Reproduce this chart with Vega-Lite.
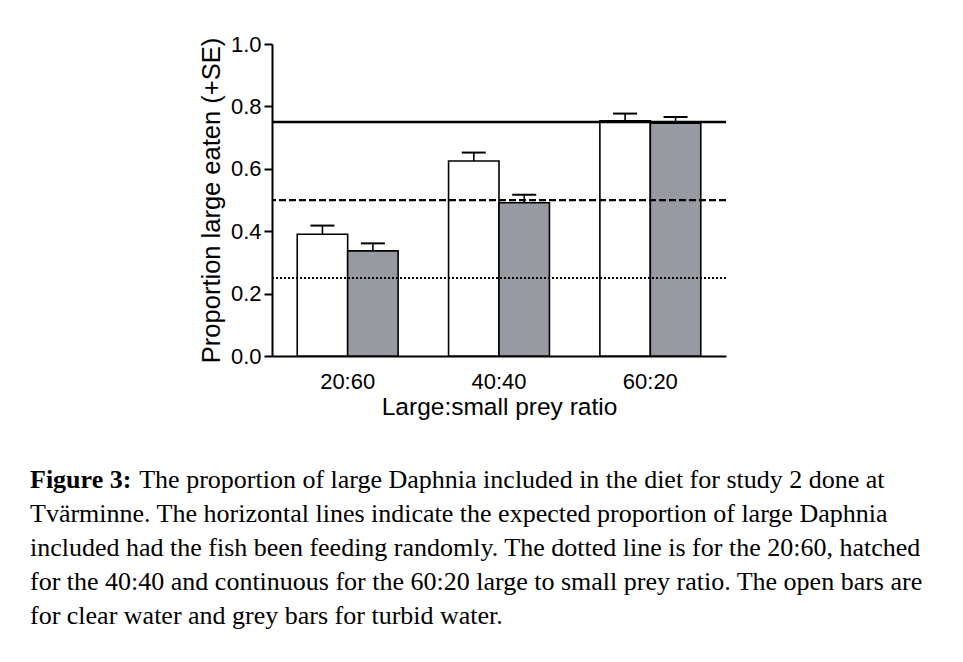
{
  "$schema": "https://vega.github.io/schema/vega-lite/v6.json",
  "width": 454,
  "height": 312,
  "autosize": {"type": "none"},
  "padding": {"left": 272, "top": 44, "right": 237, "bottom": 306},
  "background": "white",
  "datasets": {
    "bars": [
      {"ratio": "20:60", "water": "clear", "value": 0.390, "upper": 0.418},
      {"ratio": "20:60", "water": "turbid", "value": 0.337, "upper": 0.361},
      {"ratio": "40:40", "water": "clear", "value": 0.625, "upper": 0.652},
      {"ratio": "40:40", "water": "turbid", "value": 0.491, "upper": 0.517},
      {"ratio": "60:20", "water": "clear", "value": 0.754, "upper": 0.777},
      {"ratio": "60:20", "water": "turbid", "value": 0.746, "upper": 0.766}
    ],
    "expected": [
      {"ratio": "20:60", "expected": 0.25},
      {"ratio": "40:40", "expected": 0.5},
      {"ratio": "60:20", "expected": 0.75}
    ]
  },
  "title": {
    "text": "Figure 3:",
    "subtitle": [
      "\u200b\u00a0\u00a0\u00a0\u00a0\u00a0\u00a0\u00a0\u00a0\u00a0\u00a0\u00a0\u00a0\u00a0\u00a0\u00a0\u00a0\u2009The proportion of large Daphnia included in the diet for study 2 done at",
      "Tvärminne. The horizontal lines indicate the expected proportion of large Daphnia",
      "included had the fish been feeding randomly. The dotted line is for the 20:60, hatched",
      "for the 40:40 and continuous for the 60:20 large to small prey ratio. The open bars are",
      "for clear water and grey bars for turbid water."
    ],
    "orient": "bottom",
    "anchor": "start",
    "frame": "group",
    "dx": -242,
    "offset": 48,
    "font": "Liberation Serif",
    "fontSize": 26,
    "fontWeight": "bold",
    "color": "black",
    "lineHeight": 34,
    "subtitleFont": "Liberation Serif",
    "subtitleFontSize": 26,
    "subtitleFontWeight": "normal",
    "subtitleColor": "black",
    "subtitleLineHeight": 34,
    "subtitlePadding": -26
  },
  "config": {
    "view": {"stroke": null},
    "axis": {
      "labelFont": "Liberation Sans",
      "titleFont": "Liberation Sans",
      "labelColor": "black",
      "titleColor": "black",
      "domainColor": "black",
      "tickColor": "black",
      "domainWidth": 2,
      "tickWidth": 2,
      "grid": false,
      "titleFontWeight": "normal"
    }
  },
  "layer": [
    {
      "data": {"name": "bars"},
      "mark": {"type": "bar", "stroke": "black", "strokeWidth": 1.6},
      "encoding": {
        "x": {
          "field": "ratio", "type": "nominal",
          "scale": {"paddingInner": 0.3333, "paddingOuter": 0.1667},
          "axis": {
            "title": "Large:small prey ratio",
            "labelAngle": 0,
            "ticks": false,
            "labelFontSize": 22,
            "labelPadding": 15,
            "titleFontSize": 24.5,
            "titlePadding": 3
          }
        },
        "xOffset": {"field": "water", "type": "nominal", "scale": {"domain": ["clear", "turbid"], "paddingInner": 0}},
        "y": {
          "field": "value", "type": "quantitative",
          "scale": {"domain": [0, 1]},
          "axis": {
            "title": "Proportion large eaten (+SE)",
            "values": [0, 0.2, 0.4, 0.6, 0.8, 1.0],
            "format": ".1f",
            "tickSize": 8,
            "labelFontSize": 22,
            "labelPadding": 3,
            "titleFontSize": 25.5,
            "titlePadding": 6
          }
        },
        "fill": {
          "field": "water", "type": "nominal",
          "scale": {"domain": ["clear", "turbid"], "range": ["#ffffff", "#979ba1"]},
          "legend": null
        }
      }
    },
    {
      "data": {"name": "bars"},
      "mark": {"type": "rule", "stroke": "black", "strokeWidth": 1.6},
      "encoding": {
        "x": {"field": "ratio", "type": "nominal"},
        "xOffset": {"field": "water", "type": "nominal"},
        "y": {"field": "value", "type": "quantitative"},
        "y2": {"field": "upper"}
      }
    },
    {
      "data": {"name": "bars"},
      "mark": {"type": "tick", "color": "black", "thickness": 2, "size": 24, "opacity": 1},
      "encoding": {
        "x": {"field": "ratio", "type": "nominal"},
        "xOffset": {"field": "water", "type": "nominal"},
        "y": {"field": "upper", "type": "quantitative"}
      }
    },
    {
      "data": {"name": "expected"},
      "mark": {"type": "rule", "color": "black"},
      "encoding": {
        "y": {"field": "expected", "type": "quantitative"},
        "strokeDash": {
          "field": "ratio", "type": "nominal",
          "scale": {"domain": ["20:60", "40:40", "60:20"], "range": [[2, 2], [7, 3], [1, 0]]},
          "legend": null
        },
        "strokeWidth": {
          "field": "ratio", "type": "nominal",
          "scale": {"domain": ["20:60", "40:40", "60:20"], "range": [2, 2.5, 1.5]},
          "legend": null
        }
      }
    }
  ]
}
